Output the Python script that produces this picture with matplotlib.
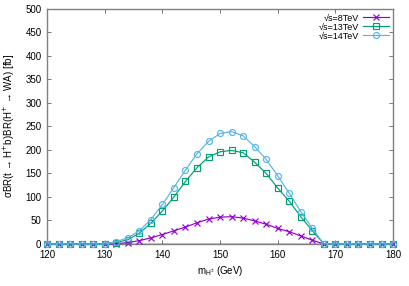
import matplotlib
matplotlib.use("Agg")
import matplotlib.pyplot as plt
import numpy as np

# charged Higgs mass points (GeV)
mass = list(range(120, 182, 2))

# sigma*BR*BR in fb (120-130 and 168-180 are zero)
xsec_8 = [0] * 6 + [0.5, 3, 7, 13, 20, 28, 36, 45, 53, 57, 58, 55, 49, 42, 33, 26, 17, 8] + [0] * 7
xsec_13 = [0] * 6 + [3, 9, 23, 44, 70, 100, 133, 162, 185, 196, 199, 194, 174, 150, 119, 91, 58, 28] + [0] * 7
xsec_14 = [0] * 6 + [5, 13, 28, 52, 84, 120, 157, 192, 218, 235, 239, 230, 207, 180, 145, 108, 69, 33] + [0] * 7

labels = ["√s=8TeV", "√s=13TeV", "√s=14TeV"]
colors = ["#9400D3", "#009E73", "#56B4E9"]
markers = ["x", "s", "o"]

plt.rcParams["font.family"] = ["Liberation Sans", "DejaVu Sans"]
plt.rcParams["font.size"] = 7

fig = plt.figure(figsize=(4.09, 2.86), dpi=100)
ax = fig.add_axes([0.115, 0.147, 0.846, 0.822])

for ys, lab, c, m in zip([xsec_8, xsec_13, xsec_14], labels, colors, markers):
    ax.plot(mass, ys, color=c, marker=m, markersize=4.3, markerfacecolor="none",
            markeredgewidth=0.85, linewidth=0.85, label=lab, clip_on=False, zorder=3)

ax.axhline(0, color="black", linewidth=1.0, zorder=2)

ax.set_xlim(120, 180)
ax.set_ylim(0, 500)
ax.set_xticks(np.arange(120, 181, 10))
ax.set_yticks(np.arange(0, 501, 50))
ax.tick_params(direction="in", top=True, right=True, length=3, width=0.6,
               color="#606060", labelsize=7, pad=4)
for s in ax.spines.values():
    s.set_color("#808080")
    s.set_linewidth(1.0)

ax.set_xlabel(r"m$_{\mathregular{H^{\pm}}}$ (GeV)", fontsize=7, labelpad=3)
ax.set_ylabel("σBR(t → H$^{+}$b)BR(H$^{+}$ → WA) [fb]", fontsize=7, labelpad=6)

leg = ax.legend(loc="upper right", frameon=False, markerfirst=False, fontsize=6.5,
                handlelength=2.8, handletextpad=0.5, labelspacing=0.0,
                borderaxespad=0.2, borderpad=0.3, handleheight=0.5)
for t in leg.get_texts():
    t.set_ha("right")

fig.savefig("out.png", dpi=100)
